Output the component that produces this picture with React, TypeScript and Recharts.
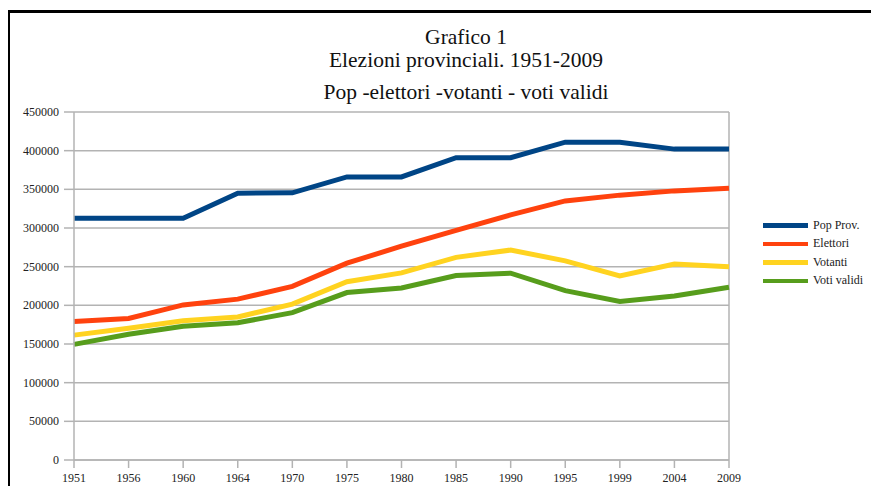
import React from 'react';
import { LineChart, Line, XAxis, YAxis, CartesianGrid, ReferenceLine } from 'recharts';

const years = ['1951', '1956', '1960', '1964', '1970', '1975', '1980', '1985', '1990', '1995', '1999', '2004', '2009'];
const popProv = [312500, 312500, 312500, 345000, 345500, 366000, 366000, 391000, 391000, 411000, 411000, 402000, 402000];
const elettori = [179000, 183000, 200500, 208000, 224500, 254500, 276500, 297000, 317000, 335000, 342500, 348000, 351500];
const votanti = [161500, 170500, 180000, 185000, 201500, 230500, 242000, 262000, 271500, 257500, 238000, 253500, 250000];
const votiValidi = [149500, 162500, 173000, 177500, 190500, 216500, 222500, 238500, 241500, 219000, 205000, 212000, 223500];
const yTicks = [0, 50000, 100000, 150000, 200000, 250000, 300000, 350000, 400000, 450000];

const series = [
  { key: 'pop', name: 'Pop Prov.', color: '#004586' },
  { key: 'elettori', name: 'Elettori', color: '#ff420e' },
  { key: 'votanti', name: 'Votanti', color: '#ffd320' },
  { key: 'validi', name: 'Voti validi', color: '#579d1c' },
];

const data = years.map((year, i) => ({
  year,
  pop: popProv[i],
  elettori: elettori[i],
  votanti: votanti[i],
  validi: votiValidi[i],
}));

const FONT = '"Liberation Serif", "Times New Roman", serif';
const GRID = '#b3b3b3';

// tick labels drawn by hand so the serif font and colour stick
const XTick = ({ x, y, payload }: any) => (
  <text x={x} y={y + 12} textAnchor="middle" fontFamily={FONT} fontSize={12} fill="#222">
    {payload.value}
  </text>
);

const YTick = ({ x, y, payload }: any) => (
  <text x={x - 3} y={y + 4} textAnchor="end" fontFamily={FONT} fontSize={12} fill="#222">
    {payload.value}
  </text>
);

const LegendBox = () => (
  <div style={{ position: 'absolute', left: 763, top: 216, fontFamily: FONT, fontSize: 12, color: '#222' }}>
    {series.map((s) => (
      <div key={s.key} style={{ display: 'flex', alignItems: 'center', height: 18.5 }}>
        <div style={{ width: 45, height: 4.5, background: s.color, marginRight: 5 }} />
        <span>{s.name}</span>
      </div>
    ))}
  </div>
);

const titleStyle: React.CSSProperties = {
  position: 'absolute',
  left: 216,
  width: 500,
  textAlign: 'center',
  fontFamily: FONT,
  fontSize: 21.5,
  color: '#111',
  lineHeight: '22px',
  whiteSpace: 'nowrap',
};

export default function App() {
  return (
    <div style={{ position: 'relative', width: 871, height: 486, overflow: 'hidden', background: '#fff' }}>
      <style>{'body{margin:0;overflow:hidden}'}</style>
      <div
        style={{
          position: 'absolute',
          left: 8,
          top: 10,
          width: 900,
          height: 500,
          borderTop: '3px solid #000',
          borderLeft: '2px solid #000',
        }}
      />
      <div style={{ ...titleStyle, top: 26 }}>Grafico 1</div>
      <div style={{ ...titleStyle, top: 49 }}>Elezioni provinciali. 1951-2009</div>
      <div style={{ ...titleStyle, top: 81 }}>Pop -elettori -votanti - voti validi</div>
      <div style={{ position: 'absolute', left: 0, top: 0 }}>
        <LineChart width={871} height={486} data={data} margin={{ top: 112, right: 142, bottom: 0, left: 8 }}>
          <CartesianGrid vertical={false} stroke={GRID} strokeWidth={1.5} />
          <XAxis
            dataKey="year"
            interval={0}
            padding={{ left: 0, right: 0 }}
            height={26}
            tickSize={8}
            stroke={GRID}
            strokeWidth={1.5}
            tick={<XTick />}
          />
          <YAxis
            domain={[0, 450000]}
            ticks={yTicks}
            width={66}
            tickSize={10}
            stroke={GRID}
            strokeWidth={1.5}
            tick={<YTick />}
          />
          <ReferenceLine x="2009" stroke={GRID} strokeWidth={1.5} />
          {series.map((s) => (
            <Line
              key={s.key}
              type="linear"
              dataKey={s.key}
              name={s.name}
              stroke={s.color}
              strokeWidth={5}
              dot={false}
              activeDot={false}
              isAnimationActive={false}
            />
          ))}
        </LineChart>
      </div>
      <LegendBox />
    </div>
  );
}
